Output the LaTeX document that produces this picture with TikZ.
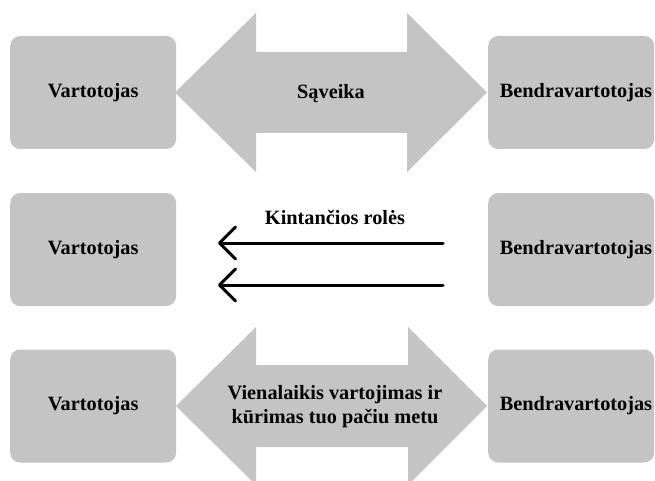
\documentclass[tikz,border=0pt]{standalone}
\usepackage{fontspec}
\setmainfont{Liberation Serif}
\usetikzlibrary{arrows.meta}
\definecolor{boxgray}{RGB}{196,196,196}
\begin{document}
\begin{tikzpicture}[x=1pt,y=-1pt,
  lbl/.style={font=\fontsize{20.3}{24}\selectfont\bfseries, text=black, align=center},
  actor/.style={fill=boxgray, rounded corners=10pt, minimum width=166pt, minimum height=113pt, inner sep=0pt, anchor=west},
  bigarrow/.style={fill=boxgray},
  rolearrow/.style={line width=3pt, line cap=round, -{Straight Barb[length=16pt,width=32pt,line width=3pt,round]}}]
\useasboundingbox (0,0) rectangle (655,481);
\clip (0,0) rectangle (655,481);
% top row
\node[actor] (v1) at (10,92.5) {};
\node[lbl] at (v1.center) {Vartotojas};
\node[actor] (b1) at (488,92.5) {};
\node[lbl] at (576,92.5) {Bendravartotojas};
\fill[bigarrow] (175,92.5) -- (256,13) -- (256,52) -- (407,52) -- (407,13) -- (487,92.5) -- (407,172) -- (407,133) -- (256,133) -- (256,172) -- cycle;
\node[lbl] (s1) at (331,94) {Sąveika};
% middle row
\node[actor] (v2) at (10,249.5) {};
\node[lbl] at (v2.center) {Vartotojas};
\node[actor] (b2) at (488,249.5) {};
\node[lbl] at (576,249.5) {Bendravartotojas};
\node[lbl] (kr) at (335,217) {Kintančios rolės};
\coordinate (r1) at (443,243);
\coordinate (l1) at (218,243);
\coordinate (r2) at (443,285);
\coordinate (l2) at (218,285);
\draw[rolearrow] (r1) -- (l1);
\draw[rolearrow] (r2) -- (l2);
% bottom row
\node[actor] (v3) at (10,406) {};
\node[lbl] at (v3.center) {Vartotojas};
\node[actor] (b3) at (488,406) {};
\node[lbl] at (576,406) {Bendravartotojas};
\fill[bigarrow] (176,406) -- (256,327) -- (256,365) -- (408,365) -- (408,327) -- (487,406) -- (408,485) -- (408,447) -- (256,447) -- (256,485) -- cycle;
\node[lbl] (vk) at (335,407) {Vienalaikis vartojimas ir\\kūrimas tuo pačiu metu};
\end{tikzpicture}
\end{document}
